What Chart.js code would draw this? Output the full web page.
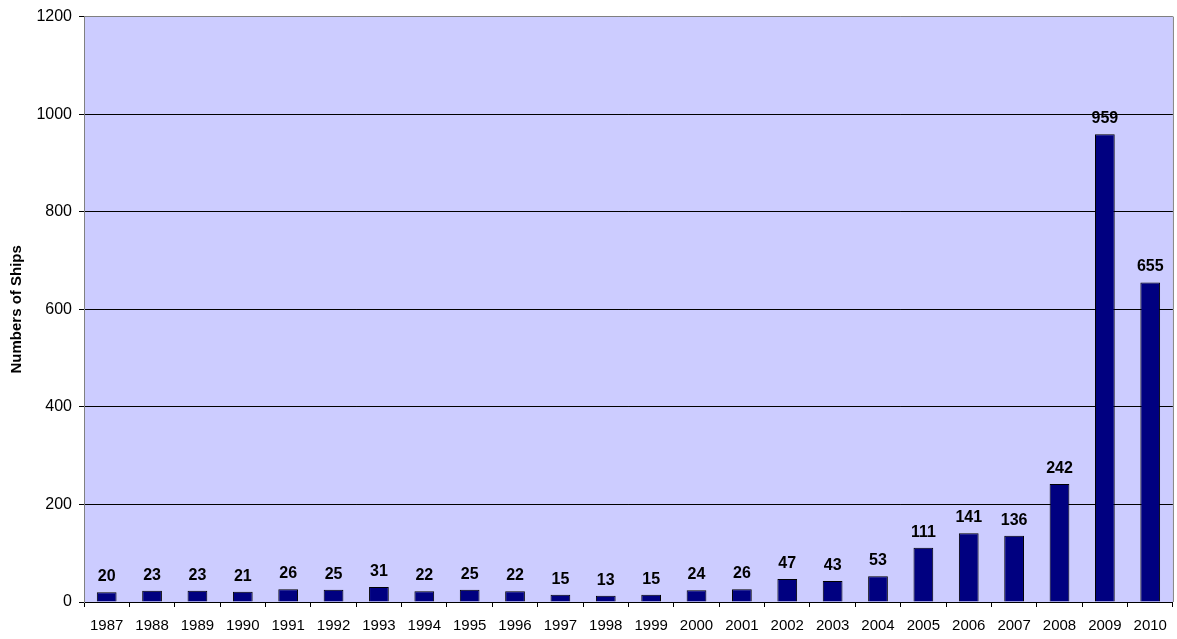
<!DOCTYPE html>
<html>
<head>
<meta charset="utf-8">
<script src="https://cdn.jsdelivr.net/npm/chart.js@4"></script>
<style>
  html, body { margin: 0; padding: 0; background: #fff; }
  #wrap { width: 1177px; height: 639px; }
</style>
</head>
<body>
<div id="wrap"><canvas id="chartShips" width="1177" height="639"></canvas></div>
<script>
// ==== Data ====
const years = ['1987','1988','1989','1990','1991','1992','1993','1994','1995','1996','1997','1998',
  '1999','2000','2001','2002','2003','2004','2005','2006','2007','2008','2009','2010'];
const ships = [20, 23, 23, 21, 26, 25, 31, 22, 25, 22, 15, 13, 15, 24, 26, 47, 43, 53, 111, 141, 136, 242, 959, 655];
const yTicks = [0, 200, 400, 600, 800, 1000, 1200];

const fontFamily = '"Liberation Sans", Arial, sans-serif';

// background of plot area + right border
const plotBg = {
  id: 'plotBg',
  beforeDraw(chart) {
    const { ctx, chartArea: a } = chart;
    ctx.save();
    ctx.fillStyle = '#CCCCFF';
    ctx.fillRect(a.left, a.top, a.right - a.left, a.bottom - a.top);
    ctx.restore();
  },
  afterDraw(chart) {
    const { ctx, chartArea: a } = chart;
    ctx.save();
    ctx.strokeStyle = '#808080';
    ctx.lineWidth = 1;
    ctx.beginPath();
    ctx.moveTo(a.right + 0.5, a.top);
    ctx.lineTo(a.right + 0.5, a.bottom);
    ctx.stroke();
    ctx.restore();
  }
};

// value labels above bars
const barLabels = {
  id: 'barLabels',
  afterDatasetsDraw(chart) {
    const { ctx } = chart;
    const meta = chart.getDatasetMeta(0);
    ctx.save();
    ctx.font = 'bold 16px ' + fontFamily;
    ctx.fillStyle = '#000';
    ctx.textAlign = 'center';
    ctx.textBaseline = 'alphabetic';
    meta.data.forEach((bar, i) => {
      ctx.fillText(String(ships[i]), bar.x, bar.y - 11);
    });
    ctx.restore();
  }
};

const ctx = document.getElementById('chartShips').getContext('2d');
const chart = new Chart(ctx, {
  type: 'bar',
  data: {
    labels: years,
    datasets: [{
      data: ships,
      backgroundColor: '#000080',
      borderColor: '#000000',
      borderWidth: 1,
      categoryPercentage: 1,
      barPercentage: 0.435
    }]
  },
  options: {
    responsive: false,
    animation: false,
    layout: { padding: { top: 16, right: 4, left: 0, bottom: 0 } },
    plugins: { legend: { display: false }, tooltip: { enabled: false } },
    scales: {
      x: {
        offset: true,
        grid: {
          offset: true,
          drawOnChartArea: false,
          drawTicks: true,
          tickLength: 5,
          tickColor: '#000'
        },
        border: { color: '#000', width: 1 },
        ticks: {
          color: '#000',
          font: { family: fontFamily, size: 15 },
          maxRotation: 0,
          autoSkip: false,
          padding: 10
        },
        afterFit(scale) { scale.height = 37; }
      },
      y: {
        min: 0,
        max: 1200,
        afterBuildTicks(scale) { scale.ticks = yTicks.map(v => ({ value: v })); },
        grid: {
          color: c => (c.tick && c.tick.value === 1200) ? '#808080' : '#000',
          tickColor: '#000',
          tickLength: 5,
          lineWidth: 1
        },
        border: { color: '#808080', width: 1 },
        ticks: {
          color: '#000',
          font: { family: fontFamily, size: 16 },
          padding: 7,
          callback: v => String(v)
        },
        title: {
          display: true,
          text: 'Numbers of Ships',
          color: '#000',
          font: { family: fontFamily, size: 15, weight: 'bold' },
          padding: { top: 8, bottom: 8 }
        },
        afterFit(scale) { scale.width = 84; }
      }
    }
  },
  plugins: [plotBg, barLabels]
});
</script>
</body>
</html>
